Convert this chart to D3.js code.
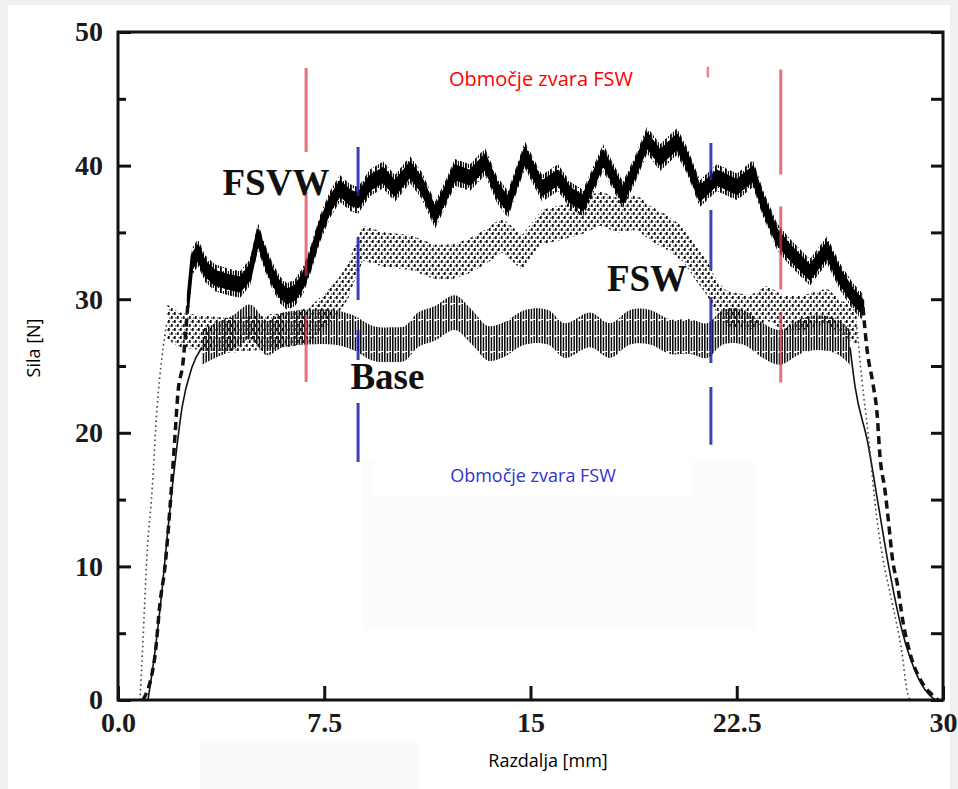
<!DOCTYPE html>
<html>
<head>
<meta charset="utf-8">
<script src="https://cdn.jsdelivr.net/npm/d3@7"></script>
<style>
body { margin:0; background:#f0f0f0; }
svg { display:block; }
.tickText { font-family:"Liberation Serif",serif; font-weight:bold; font-size:28px; fill:#1a1a1a; }
.seriesText { font-family:"Liberation Serif",serif; font-weight:bold; font-size:37px; fill:#111; }
.axisTitle { font-family:"Open Sans",sans-serif; font-size:18px; fill:#000; }
</style>
</head>
<body>
<div id="chart"></div>
<script>

/* data: [distance mm, force N] */
var xTicks = [0, 7.5, 15, 22.5, 30]
var xTickLabels = ["0.0", "7.5", "15", "22.5", "30"]
var yTicks = [0, 10, 20, 30, 40, 50]
var yMinorTicks = [5, 15, 25, 35, 45]

var fsvwRise = [[0.91,0],[1.35,3.4],[1.53,7.3],[1.71,10.0],[1.89,14.4],[2.07,19.7],[2.18,23.0],[2.36,25.2],[2.47,27.7],[2.55,29.9]]
var fsvwBody = [[2.55,29.9],[2.69,32.8],[2.91,33.5],[3.16,32.3],[3.53,31.6],[4.0,31.3],[4.44,31.1],[4.8,32.0],[5.09,34.7],
  [5.35,33.1],[5.6,31.8],[5.89,30.7],[6.15,30.2],[6.44,30.5],[6.73,31.4],[6.98,32.8],[7.35,35.3],[7.71,37.1],[8.07,38.3],
  [8.44,37.6],[8.73,37.4],[9.16,38.7],[9.64,39.3],[10.07,38.3],[10.62,39.7],[11.05,38.5],[11.53,36.3],[11.89,37.8],
  [12.25,39.5],[12.8,39.1],[13.35,40.3],[13.78,38.2],[14.18,37.1],[14.8,40.8],[15.42,38.3],[16.0,39.1],[16.44,37.8],
  [16.91,37.2],[17.64,40.6],[18.36,37.8],[18.8,39.7],[19.24,41.9],[19.71,40.6],[20.33,41.8],[20.69,40.4],[21.16,37.9],
  [21.78,39.1],[22.51,38.4],[23.09,39.4],[23.45,37.2],[23.96,34.7],[24.44,33.5],[25.16,32.0],[25.78,33.7],[26.25,31.7],
  [26.73,30.2],[27.09,29.4]]
var fsvwFall = [[27.09,29.4],[27.24,26.2],[27.45,23.7],[27.6,21.5],[27.71,18.2],[27.89,15.7],[28.0,13.7],[28.18,10.3],
  [28.33,8.8],[28.55,5.8],[28.8,3.5],[29.24,1.3],[29.6,0.4],[29.82,0]]

var fswRise = [[0.8,0],[0.91,4.5],[1.05,10.7],[1.24,15.7],[1.42,21.9],[1.6,25.7],[1.78,28.3]]
var fswBody = [[1.78,28.3],[2.25,27.7],[2.98,27.5],[4.07,27.3],[5.16,27.5],[6.25,27.7],[6.98,28.1],[7.42,29.0],[7.96,30.1],
  [8.36,31.3],[8.62,32.8],[8.91,34.2],[9.71,33.7],[10.62,33.5],[11.53,32.8],[12.15,32.8],[12.73,33.2],[13.35,33.9],
  [13.96,34.8],[14.69,33.5],[15.42,35.4],[16.25,35.8],[16.91,36.2],[17.53,36.8],[18.15,36.3],[18.87,36.5],[19.35,35.7],
  [19.96,35.0],[20.55,34.1],[21.05,32.6],[21.42,31.6],[21.78,30.1],[22.15,29.3],[22.98,29.0],[23.6,29.7],[24.18,29.0],
  [24.91,29.0],[25.78,29.5],[26.25,28.7],[26.87,27.9]]
var fswFall = [[26.87,27.9],[27.05,24.0],[27.3,19.5],[27.53,14.7],[27.78,11.0],[28.15,7.3],[28.51,3.5],[28.69,0.7],[28.8,0]]

var baseRise = [[1.09,0],[1.35,3.7],[1.6,8.2],[1.78,12.0],[1.96,15.7],[2.15,19.1],[2.33,21.9],[2.69,24.9],[3.05,26.4]]
var baseBody = [[3.05,26.4],[3.53,26.9],[4.18,27.5],[4.8,28.3],[5.42,27.1],[5.98,27.7],[6.87,27.9],[7.82,27.9],[8.55,27.5],
  [9.27,26.7],[10.0,26.6],[10.44,26.7],[10.91,27.7],[11.53,28.2],[12.25,29.0],[12.87,27.9],[13.45,26.7],[13.96,26.9],
  [14.8,27.9],[15.64,27.9],[16.25,26.9],[17.16,27.7],[17.89,26.9],[18.62,27.9],[19.35,27.9],[20.07,27.2],[20.8,27.2],
  [21.42,26.9],[22.0,27.9],[22.73,27.9],[23.45,26.9],[24.07,26.4],[24.8,27.2],[25.42,27.5],[26.15,27.2],[26.62,26.4]]
var baseFall = [[26.62,26.4],[26.8,23.5],[27.27,19.2],[27.64,14.7],[28.0,10.3],[28.51,5.2],[29.09,1.7],[29.6,0.2],[29.75,0]]

/* weld zone markers: x position, top and bottom force */
var redZoneX = [6.84, 24.1]
var redZoneTop = [47.3, 47.2]
var redZoneBottom = [23.8, 23.6]
var blueZoneX = [8.73, 21.56]
var blueZoneTop = [41.4, 41.7]
var blueZoneBottom = [17.8, 19.1]

var svg = d3.select("#chart")
  .append("svg")
  .attr("width", 958)
  .attr("height", 789)

svg.append("rect")
  .attr("x", 8).attr("y", 5)
  .attr("width", 942).attr("height", 784)
  .attr("fill", "#fff")

/* faint leftovers of pasted boxes */
svg.append("rect").attr("x", 362).attr("y", 460).attr("width", 393).attr("height", 170).attr("fill", "#fcfcfc")
svg.append("rect").attr("x", 200).attr("y", 743).attr("width", 220).attr("height", 46).attr("fill", "#fafafa")

var x = d3.scaleLinear().domain([0, 30]).range([118, 943])
var y = d3.scaleLinear().domain([0, 50]).range([700, 32])

/* patterns for the noisy traces */
var defs = svg.append("defs")
var hatch = defs.append("pattern")
  .attr("id", "hatch")
  .attr("patternUnits", "userSpaceOnUse")
  .attr("width", 8).attr("height", 16)
hatch.append("rect").attr("x", 0).attr("y", 0).attr("width", 1.6).attr("height", 16).attr("fill", "#111")
hatch.append("rect").attr("x", 2.7).attr("y", 1).attr("width", 1.5).attr("height", 14).attr("fill", "#111")
hatch.append("rect").attr("x", 5.4).attr("y", 0).attr("width", 1.6).attr("height", 15).attr("fill", "#1a1a1a")

var fuzz = defs.append("pattern")
  .attr("id", "fuzz")
  .attr("patternUnits", "userSpaceOnUse")
  .attr("width", 5).attr("height", 10)
fuzz.append("rect").attr("x", 0).attr("y", 0).attr("width", 1.8).attr("height", 10).attr("fill", "#000")
fuzz.append("rect").attr("x", 2.8).attr("y", 1).attr("width", 1.2).attr("height", 7).attr("fill", "#111")

var dots = defs.append("pattern")
  .attr("id", "dots")
  .attr("patternUnits", "userSpaceOnUse")
  .attr("width", 6).attr("height", 8)
dots.append("rect").attr("x", 0).attr("y", 0).attr("width", 1.7).attr("height", 3).attr("fill", "#111")
dots.append("rect").attr("x", 3).attr("y", 4).attr("width", 1.7).attr("height", 3).attr("fill", "#1a1a1a")
dots.append("rect").attr("x", 4.5).attr("y", 1).attr("width", 1.2).attr("height", 1.6).attr("fill", "#333")
dots.append("rect").attr("x", 1.3).attr("y", 5.2).attr("width", 1.2).attr("height", 1.6).attr("fill", "#333")

function bandPath(data, half, curve) {
  return d3.area()
    .x(function(d) { return x(d[0]) })
    .y0(function(d) { return y(d[1] - half) })
    .y1(function(d) { return y(d[1] + half) })
    .curve(curve)(data)
}
var rampLine = d3.line()
  .x(function(d) { return x(d[0]) })
  .y(function(d) { return y(d[1]) })
  .curve(d3.curveMonotoneX)

/* Base: hatched band, solid ramps */
svg.append("path").attr("d", bandPath(baseBody, 1.3, d3.curveCatmullRom)).attr("fill", "url(#hatch)")
;[baseRise, baseFall].forEach(function(r) {
  svg.append("path").attr("d", rampLine(r))
    .attr("fill", "none").attr("stroke", "#111").attr("stroke-width", 1.6)
})

/* FSW: dotted band, dotted ramps */
svg.append("path").attr("d", bandPath(fswBody, 1.3, d3.curveLinear)).attr("fill", "url(#dots)")
;[fswRise, fswFall].forEach(function(r) {
  svg.append("path").attr("d", rampLine(r))
    .attr("fill", "none").attr("stroke", "#444").attr("stroke-width", 1.6)
    .attr("stroke-dasharray", "1.6,3.2")
})

/* FSVW: heavy band with ragged edge, dashed ramps */
svg.append("path").attr("d", bandPath(fsvwBody, 1.0, d3.curveLinear)).attr("fill", "url(#fuzz)")
svg.append("path").attr("d", bandPath(fsvwBody, 0.5, d3.curveLinear))
  .attr("fill", "#000").attr("stroke", "#000").attr("stroke-width", 2.5).attr("stroke-linejoin", "round")
;[fsvwRise, fsvwFall].forEach(function(r) {
  svg.append("path").attr("d", rampLine(r))
    .attr("fill", "none").attr("stroke", "#111").attr("stroke-width", 3.5)
    .attr("stroke-dasharray", "8,5")
})

/* weld zone lines */
var redDash = ["84,40", "105,32,83,23,70"]
var blueDash = ["49,41,63,30,30,43,59", "37,30,60,27,66,24,58"]
redZoneX.forEach(function(v, i) {
  svg.append("line")
    .attr("x1", x(v)).attr("x2", x(v))
    .attr("y1", y(redZoneTop[i])).attr("y2", y(redZoneBottom[i]))
    .attr("stroke", "#dd3344").attr("stroke-opacity", 0.7).attr("stroke-width", 3)
    .attr("stroke-dasharray", redDash[i])
})
blueZoneX.forEach(function(v, i) {
  svg.append("line")
    .attr("x1", x(v)).attr("x2", x(v))
    .attr("y1", y(blueZoneTop[i])).attr("y2", y(blueZoneBottom[i]))
    .attr("stroke", "#2020a8").attr("stroke-opacity", 0.85).attr("stroke-width", 3)
    .attr("stroke-dasharray", blueDash[i])
})
/* stub of a third red marker peeking out above the label box */
svg.append("line")
  .attr("x1", x(21.45)).attr("x2", x(21.45))
  .attr("y1", y(47.4)).attr("y2", y(46.6))
  .attr("stroke", "#dd3344").attr("stroke-opacity", 0.6).attr("stroke-width", 2.5)

/* white label boxes */
svg.append("rect").attr("x", 373).attr("y", 450).attr("width", 319).attr("height", 45).attr("fill", "#fff")

svg.append("text").attr("class", "seriesText").attr("x", x(3.8)).attr("y", y(37.8)).text("FSVW")
svg.append("text").attr("class", "seriesText").attr("x", x(17.78)).attr("y", y(30.6)).text("FSW")
svg.append("text").attr("class", "seriesText").attr("x", x(8.45)).attr("y", y(23.3)).text("Base")

svg.append("text")
  .attr("x", 541).attr("y", 86)
  .attr("text-anchor", "middle")
  .style("font-family", "Open Sans, sans-serif").style("font-size", "20px")
  .attr("fill", "#ff0000")
  .text("Območje zvara FSW")
svg.append("text")
  .attr("x", 533).attr("y", 482)
  .attr("text-anchor", "middle")
  .style("font-family", "Open Sans, sans-serif").style("font-size", "18px")
  .attr("fill", "#3333cc")
  .text("Območje zvara FSW")

/* frame and axes */
svg.append("rect")
  .attr("x", x(0)).attr("y", y(50))
  .attr("width", x(30) - x(0)).attr("height", y(0) - y(50))
  .attr("fill", "none").attr("stroke", "#111").attr("stroke-width", 3)

var xAxis = svg.append("g")
  .attr("transform", "translate(0," + y(0) + ")")
  .call(d3.axisBottom(x).tickValues(xTicks).tickSize(-14).tickPadding(12)
    .tickFormat(function(d, i) { return xTickLabels[i] }))
var yAxis = svg.append("g")
  .attr("transform", "translate(" + x(0) + ",0)")
  .call(d3.axisLeft(y).tickValues(yTicks).tickSize(-13).tickPadding(15).tickFormat(d3.format("d")))
var yMinor = svg.append("g")
  .attr("transform", "translate(" + x(0) + ",0)")
  .call(d3.axisLeft(y).tickValues(yMinorTicks).tickSize(-8).tickFormat(""))
var yRight = svg.append("g")
  .attr("transform", "translate(" + x(30) + ",0)")
  .call(d3.axisRight(y).tickValues(yTicks.concat(yMinorTicks)).tickSize(-12).tickFormat(""))

;[xAxis, yAxis, yMinor, yRight].forEach(function(g) {
  g.select(".domain").remove()
  g.selectAll(".tick line").attr("stroke", "#111").attr("stroke-width", 3)
  g.selectAll(".tick text").attr("class", "tickText").attr("fill", null)
})

svg.append("text")
  .attr("class", "axisTitle")
  .attr("x", 548).attr("y", 767)
  .attr("text-anchor", "middle")
  .text("Razdalja [mm]")
svg.append("text")
  .attr("class", "axisTitle")
  .attr("transform", "translate(40,348) rotate(-90)")
  .attr("text-anchor", "middle")
  .text("Sila [N]")

</script>
</body>
</html>
